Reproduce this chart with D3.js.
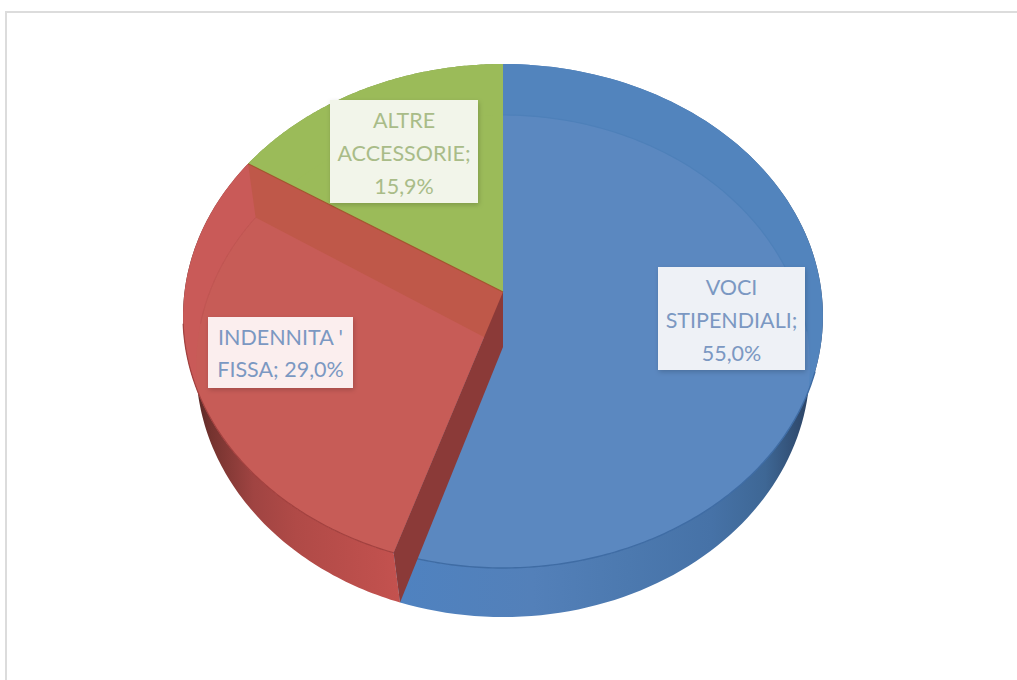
<!DOCTYPE html>
<html lang="it">
<head>
<meta charset="utf-8">
<title>Composizione retribuzione</title>
<script src="https://cdn.jsdelivr.net/npm/d3@7/dist/d3.min.js"></script>
<style>
  html, body { margin: 0; padding: 0; background: #fff; }
  svg { display: block; }
  text { font-family: Lato, "Open Sans", sans-serif; }
</style>
</head>
<body>
<svg id="chart" width="1017" height="680"></svg>
<script>
// Slice data
const categories = ["VOCI STIPENDIALI", "INDENNITA '", "ALTRE ACCESSORIE"];
const shares = [55.0, 29.0, 15.9];
const labelLines = [
  ["VOCI", "STIPENDIALI;", "55,0%"],
  ["INDENNITA '", "FISSA; 29,0%"],
  ["ALTRE", "ACCESSORIE;", "15,9%"]
];
const labelColors = ["#7b98c2", "#7b98c2", "#a9bc88"];
const boxFills = ["#eef1f6", "#fbeeee", "#f2f5ea"];
const faceColors = ["#5284bd", "#c95a58", "#9bbb59"];
const innerColors = ["#5b88c0", "#c75c57", "#9bbb59"];

// Perspective planes of the disc: upper face and lower face
const upper = { x: 503, y: 292, a: 318.5, b: 249.7, k: 0.0952 };
const lower = { x: 503, y: 347, a: 306, b: 249.6, k: 0.0758 };
const project = (p, t) => {
  const u = Math.sin(t), v = Math.cos(t), w = 1 + p.k * v;
  return [p.x + p.a * u / w, p.y - p.b * v / w];
};
const arcPoints = (p, t0, t1) =>
  d3.range(0, 121).map(i => project(p, t0 + (t1 - t0) * i / 120));
const centre = p => [p.x, p.y];
const line = d3.line();

const svg = d3.select("#chart");
const defs = svg.append("defs");

// Rim shading runs left to right across each wall
const wallStops = [
  [[0, "#4f82c0"], [0.32, "#5380b9"], [0.55, "#4c79af"], [0.75, "#4672a7"], [0.88, "#3e6795"], [1, "#2a3f5f"]],
  [[0, "#4a2423"], [0.1, "#75332f"], [0.3, "#a04442"], [0.5, "#b04a47"], [1, "#c4524f"]],
  [[0, "#7f9a48"], [1, "#7f9a48"]]
];
const wallRange = [[400, 815], [190, 402], [250, 503]];
wallStops.forEach((stops, i) => {
  const g = defs.append("linearGradient")
    .attr("id", `wall${i}`).attr("gradientUnits", "userSpaceOnUse")
    .attr("x1", wallRange[i][0]).attr("x2", wallRange[i][1])
    .attr("y1", 0).attr("y2", 0);
  stops.forEach(s => g.append("stop").attr("offset", s[0]).attr("stop-color", s[1]));
});
defs.append("filter").attr("id", "boxShadow")
  .attr("x", "-10%").attr("y", "-10%").attr("width", "125%").attr("height", "130%")
  .append("feDropShadow")
  .attr("dx", 1).attr("dy", 2).attr("stdDeviation", 2.5)
  .attr("flood-color", "#000").attr("flood-opacity", 0.18);

// Chart frame: only the top and left edges fall inside the page
svg.append("path")
  .attr("d", line([[6, 680], [6, 12], [1017, 12]]))
  .attr("fill", "none").attr("stroke", "#dcdcdc").attr("stroke-width", 2);

const slices = d3.pie().sort(null).startAngle(0).endAngle(2 * Math.PI)(shares);

// Outer walls
const walls = svg.append("g");
slices.forEach((s, i) => {
  const pts = arcPoints(upper, s.startAngle, s.endAngle)
    .concat(arcPoints(lower, s.startAngle, s.endAngle).reverse());
  walls.append("path").attr("d", line(pts) + "Z").attr("fill", `url(#wall${i})`);
});

// Upper faces, each with the lighter area inside the lower rim
const faces = svg.append("g");
slices.forEach((s, i) => {
  const outline = [centre(upper), ...arcPoints(upper, s.startAngle, s.endAngle)];
  faces.append("clipPath").attr("id", `clip${i}`)
    .append("path").attr("d", line(outline) + "Z");
  faces.append("path").attr("d", line(outline) + "Z").attr("fill", faceColors[i]);
  const inner = [centre(upper), ...arcPoints(lower, s.startAngle, s.endAngle)];
  faces.append("path").attr("d", line(inner) + "Z")
    .attr("clip-path", `url(#clip${i})`)
    .attr("fill", innerColors[i]);
});

const cutA = slices[0].endAngle;
const cutB = slices[1].endAngle;

// Front rim lines and faint far rims
faces.append("path")
  .attr("d", line(arcPoints(upper, Math.PI * 0.6, cutA)))
  .attr("fill", "none").attr("stroke", "#3f6ca4").attr("stroke-width", 1.4);
faces.append("path")
  .attr("d", line(arcPoints(upper, cutA, Math.PI * 1.46)))
  .attr("fill", "none").attr("stroke", "#a2413f").attr("stroke-width", 1.2);
faces.append("path")
  .attr("d", line(arcPoints(lower, 0, Math.PI * 0.48)))
  .attr("fill", "none").attr("stroke", "#4e80b9").attr("stroke-width", 1.2);
faces.append("path")
  .attr("d", line(arcPoints(lower, Math.PI * 1.53, cutB)))
  .attr("fill", "none").attr("stroke", "#bf5552").attr("stroke-width", 1);

// Cut faces between slices
faces.append("path")
  .attr("d", line([project(upper, cutB), centre(upper), centre(lower), project(lower, cutB)]) + "Z")
  .attr("fill", "#bf5849");
faces.append("path")
  .attr("d", line([centre(upper), project(upper, cutA), project(lower, cutA), centre(lower)]) + "Z")
  .attr("fill", "#8b3a38");
faces.append("path")
  .attr("d", line([project(upper, cutB), centre(upper)]))
  .attr("fill", "none").attr("stroke", "#a3562f").attr("stroke-width", 1.2);

// Data labels
const boxes = [
  { x: 658, y: 267, w: 147, h: 103 },
  { x: 208, y: 317, w: 145, h: 71 },
  { x: 330, y: 100, w: 148, h: 103 }
];
const labels = svg.append("g");
labelLines.forEach((lines, i) => {
  const b = boxes[i];
  labels.append("rect")
    .attr("x", b.x).attr("y", b.y).attr("width", b.w).attr("height", b.h)
    .attr("fill", boxFills[i]).attr("filter", "url(#boxShadow)");
  const step = lines.length === 3 ? 33 : 32;
  lines.forEach((txt, j) => {
    labels.append("text")
      .attr("x", b.x + b.w / 2)
      .attr("y", b.y + 20 + j * step)
      .attr("dy", "0.36em")
      .attr("text-anchor", "middle")
      .attr("font-size", 21.5)
      .attr("fill", labelColors[i])
      .text(txt);
  });
});
</script>
</body>
</html>
